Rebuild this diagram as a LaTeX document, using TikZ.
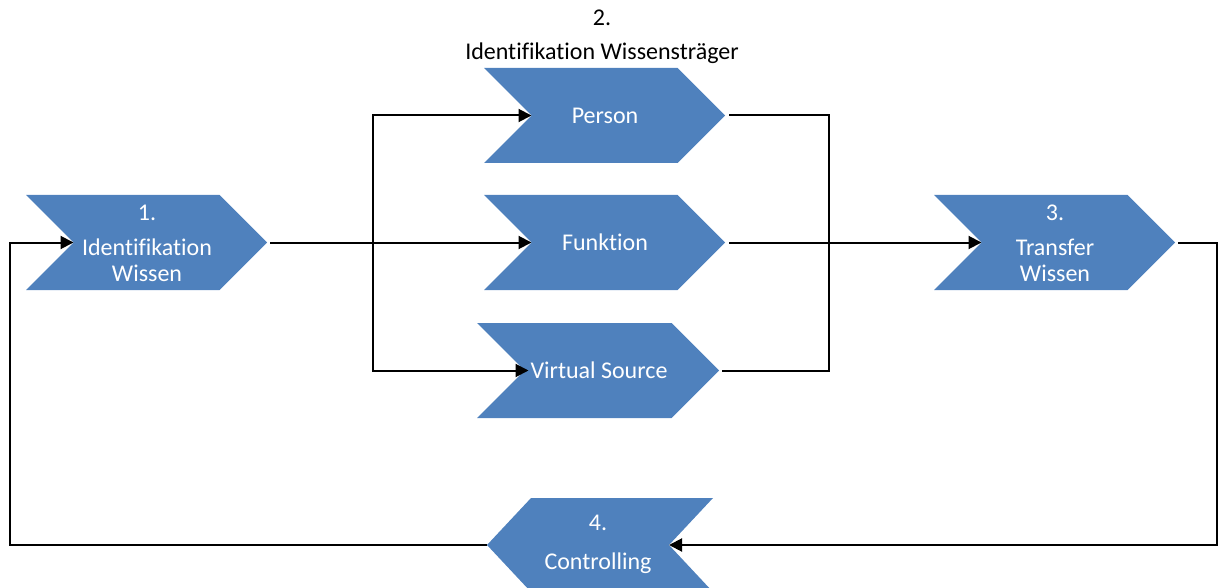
\documentclass[tikz,border=0pt]{standalone}
\usepackage{fontspec}
\setmainfont[Ligatures={NoCommon}]{Carlito}
\usetikzlibrary{arrows.meta}
\definecolor{chevblue}{HTML}{4F81BD}
\begin{document}
\begin{tikzpicture}[x=1pt,y=-1pt,
  chevfill/.style={fill=chevblue,draw=none},
  conn/.style={draw=black,line width=2pt},
  arr/.style={conn,-{Triangle[length=13pt,width=13pt]}},
  wtext/.style={text=white,font=\fontsize{24}{26}\selectfont,align=center,inner sep=0pt},
  btext/.style={text=black,font=\fontsize{24}{26}\selectfont,align=center,inner sep=0pt}]
\useasboundingbox (0,0) rectangle (1220,588);
% chevron macro: name, left x, center y, width, half height, depth
\newcommand{\chevR}[6]{%
  \fill[chevfill] (#2,#3-#5) -- (#2+#4-#6,#3-#5) -- (#2+#4,#3) -- (#2+#4-#6,#3+#5) -- (#2,#3+#5) -- (#2+#6,#3) -- cycle;
  \coordinate (#1in) at (#2+#6,#3);
  \coordinate (#1out) at (#2+#4,#3);}
\newcommand{\chevL}[6]{%
  \fill[chevfill] (#2,#3) -- (#2+#6,#3-#5) -- (#2+#4,#3-#5) -- (#2+#4-#6,#3) -- (#2+#4,#3+#5) -- (#2+#6,#3+#5) -- cycle;
  \coordinate (#1out) at (#2,#3);
  \coordinate (#1in) at (#2+#4-#6,#3);}
\chevR{a}{26}{242.5}{241}{47.5}{47.5}
\chevR{p}{484}{115.5}{241}{47.5}{47.5}
\chevR{f}{484}{242.5}{241}{47.5}{47.5}
\chevR{v}{477}{370.5}{242}{47.5}{47.5}
\chevR{t}{934}{242.5}{241}{47.5}{47.5}
\chevL{c}{487}{545}{226}{47}{44}
% texts
\node[btext] (t2) at (602,37) {2.\\[8pt]Identifikation Wissensträger};
\node[wtext] (t1) at (147,243) {1.\\[9pt]Identifikation\\Wissen};
\node[wtext] (tp) at (605,116) {Person};
\node[wtext] (tf) at (605,242) {Funktion};
\node[wtext] (tv) at (599,370) {Virtual Source};
\node[wtext] (tt) at (1055,243) {3.\\[9pt]Transfer\\Wissen};
\node[wtext] (tc) at (598,544) {4.\\[13pt]Controlling};
% connectors
\coordinate (split) at (373,242.5);
\coordinate (join) at (829,242.5);
\coordinate (rc) at (1217,400);
\coordinate (lc) at (10,400);
\draw[arr] ([xshift=3pt]aout) -- (fin);
\draw[arr] (split) |- (pin);
\draw[arr] (split) |- ([xshift=4pt]vin);
\draw[conn] ([xshift=4pt]pout) -| (join) |- ([xshift=3pt]vout);
\draw[arr] ([xshift=4pt]fout) -- (tin);
\draw[arr] ([xshift=3pt]tout) -| (rc) |- (cin);
\draw[arr] (cout) -| (lc) |- (ain);
\end{tikzpicture}
\end{document}
